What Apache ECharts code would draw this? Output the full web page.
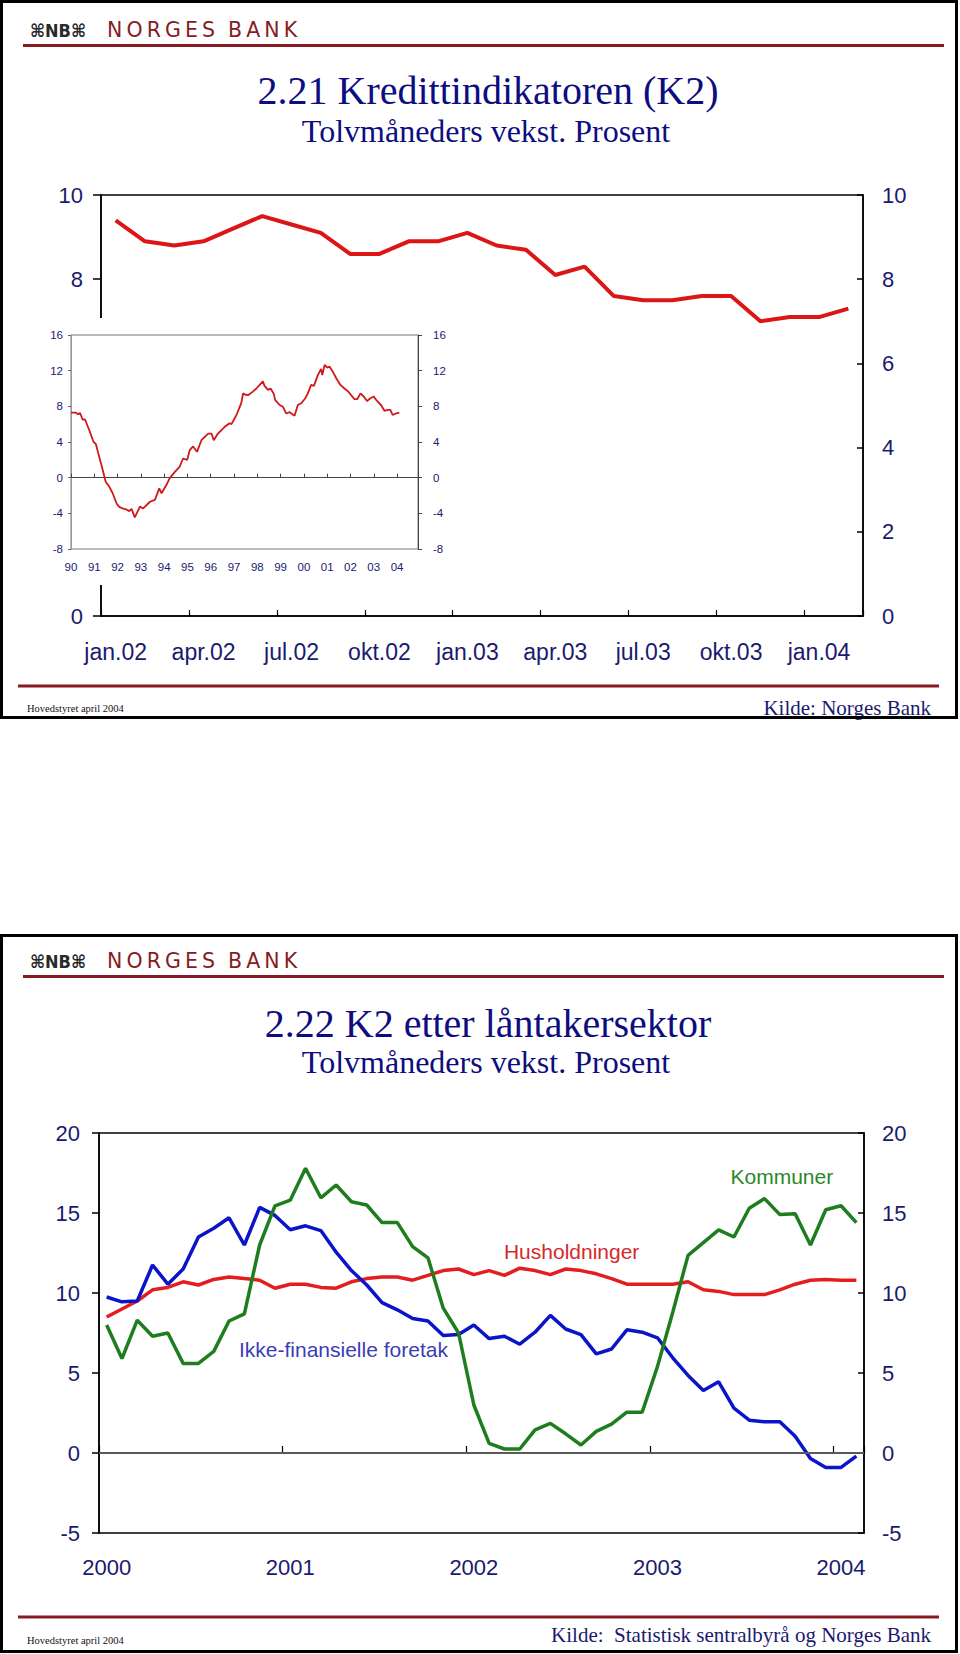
<!DOCTYPE html>
<html>
<head>
<meta charset="utf-8">
<script src="https://cdn.jsdelivr.net/npm/echarts@6/dist/echarts.min.js"></script>
<style>
html,body{margin:0;padding:0;background:#fff;}
#c{width:960px;height:1654px;}
</style>
</head>
<body>
<div id="c"></div>
<script>
// ---- Figure 2.21: K2, monthly jan.02 - feb.04 ----
const k2Months = ['jan.02','feb.02','mar.02','apr.02','mai.02','jun.02','jul.02','aug.02','sep.02','okt.02','nov.02','des.02',
  'jan.03','feb.03','mar.03','apr.03','mai.03','jun.03','jul.03','aug.03','sep.03','okt.03','nov.03','des.03','jan.04','feb.04'];
const k2Values = [9.4, 8.9, 8.8, 8.9, 9.2, 9.5, 9.3, 9.1, 8.6, 8.6, 8.9, 8.9, 9.1, 8.8, 8.7, 8.1, 8.3, 7.6, 7.5, 7.5, 7.6, 7.6, 7.0, 7.1, 7.1, 7.3];
const k2YMin = 0, k2YMax = 10, k2YStep = 2;

// ---- Inset: K2 1990 - 2004 (year, value) ----
const longYearMin = 1990, longYearMax = 2004.9;
const longYMin = -8, longYMax = 16, longYStep = 4;
const longSeries = [[1990.00,7.3],[1990.20,7.3],[1990.30,7.1],[1990.39,7.25],[1990.50,6.5],[1990.60,6.55],[1990.81,5.15],[1990.96,4.05],
  [1991.07,3.75],[1991.17,2.75],[1991.31,1.4],[1991.49,-0.45],[1991.64,-1.0],[1991.79,-1.75],[1991.96,-2.9],[1992.06,-3.25],
  [1992.21,-3.45],[1992.36,-3.55],[1992.50,-3.75],[1992.60,-3.5],[1992.74,-4.45],[1992.96,-3.25],[1993.10,-3.45],[1993.39,-2.7],
  [1993.60,-2.5],[1993.79,-1.2],[1993.89,-1.75],[1994.10,-0.8],[1994.24,-0.05],[1994.46,0.65],[1994.67,1.25],[1994.81,2.15],
  [1994.99,2.0],[1995.10,3.1],[1995.24,3.5],[1995.41,2.9],[1995.60,4.2],[1995.89,4.95],[1996.03,4.95],[1996.13,4.2],
  [1996.31,4.95],[1996.60,5.7],[1996.81,6.1],[1996.89,6.0],[1997.10,7.0],[1997.31,8.35],[1997.39,9.45],[1997.49,9.3],
  [1997.60,9.25],[1997.81,9.65],[1997.96,10.0],[1998.10,10.4],[1998.24,10.8],[1998.31,10.3],[1998.46,9.85],[1998.57,10.0],
  [1998.70,9.45],[1998.77,8.7],[1998.96,8.15],[1999.10,7.95],[1999.24,7.2],[1999.39,7.35],[1999.53,7.05],[1999.60,6.95],
  [1999.74,8.15],[1999.89,8.35],[2000.06,8.9],[2000.17,9.45],[2000.31,10.4],[2000.43,10.3],[2000.60,11.5],[2000.74,12.2],
  [2000.79,11.5],[2000.89,12.65],[2001.00,12.35],[2001.10,12.45],[2001.24,11.9],[2001.39,11.15],[2001.57,10.4],[2001.74,10.0],
  [2001.91,9.65],[2002.03,9.25],[2002.17,8.8],[2002.29,8.8],[2002.43,9.45],[2002.57,9.1],[2002.71,8.6],[2002.86,8.9],
  [2003.00,9.1],[2003.14,8.6],[2003.31,8.15],[2003.46,7.5],[2003.60,7.6],[2003.71,7.6],[2003.81,7.05],[2003.96,7.2],[2004.10,7.3]];

// ---- Figure 2.22: K2 by borrower sector, monthly jan 2000 - feb 2004 ----
const sectorMonths = ['2000-01','2000-02','2000-03','2000-04','2000-05','2000-06','2000-07','2000-08','2000-09','2000-10','2000-11','2000-12',
  '2001-01','2001-02','2001-03','2001-04','2001-05','2001-06','2001-07','2001-08','2001-09','2001-10','2001-11','2001-12',
  '2002-01','2002-02','2002-03','2002-04','2002-05','2002-06','2002-07','2002-08','2002-09','2002-10','2002-11','2002-12',
  '2003-01','2003-02','2003-03','2003-04','2003-05','2003-06','2003-07','2003-08','2003-09','2003-10','2003-11','2003-12',
  '2004-01','2004-02'];
const husholdninger = [8.5, 9.0, 9.5, 10.2, 10.35, 10.7, 10.5, 10.85, 11.0, 10.9, 10.8, 10.3,
  10.55, 10.55, 10.35, 10.3, 10.7, 10.9, 11.0, 11.0, 10.8, 11.1, 11.4, 11.5,
  11.15, 11.4, 11.1, 11.55, 11.4, 11.15, 11.5, 11.4, 11.2, 10.9, 10.55, 10.55,
  10.55, 10.55, 10.7, 10.2, 10.1, 9.9, 9.9, 9.9, 10.2, 10.55, 10.8, 10.85,
  10.8, 10.8];
const foretak = [9.75, 9.45, 9.5, 11.75, 10.55, 11.5, 13.5, 14.05, 14.7, 13.0, 15.35, 14.85,
  13.95, 14.2, 13.9, 12.55, 11.4, 10.5, 9.4, 8.95, 8.4, 8.25, 7.35, 7.4,
  8.0, 7.15, 7.3, 6.8, 7.55, 8.6, 7.75, 7.4, 6.2, 6.5, 7.7, 7.55,
  7.2, 5.95, 4.85, 3.9, 4.45, 2.8, 2.05, 1.95, 1.95, 1.05, -0.35, -0.9,
  -0.9, -0.2];
const kommuner = [8.0, 5.9, 8.3, 7.3, 7.5, 5.6, 5.6, 6.35, 8.25, 8.7, 13.0, 15.45,
  15.8, 17.8, 15.95, 16.75, 15.7, 15.5, 14.4, 14.4, 12.9, 12.2, 9.05, 7.5,
  3.0, 0.6, 0.25, 0.25, 1.45, 1.85, 1.2, 0.5, 1.35, 1.8, 2.55, 2.55,
  5.4, 8.8, 12.35, 13.15, 13.95, 13.5, 15.3, 15.9, 14.9, 14.95, 13.0, 15.2,
  15.45, 14.4];
const sectorYMin = -5, sectorYMax = 20, sectorYStep = 5;

// ---- styling ----
const NAVY = '#1a1a6e';
const TITLE = '#0d0d80';
const SANS = "'Liberation Sans', Arial, sans-serif";
const SERIF = "'Liberation Serif', 'Times New Roman', serif";
const MAROON = '#861c22';
const TS = '\u2009';

function logo(y) {
  return [
    { type: 'text', x: 30, y: y, z: 30, style: { text: '\u2318NB\u2318', font: "bold 18px 'DejaVu Sans Condensed','DejaVu Sans'", fill: '#2a2a2a', textVerticalAlign: 'middle' } },
    { type: 'text', x: 107, y: y, z: 30, style: { text: ['N','O','R','G','E','S'].join(TS) + '\u00a0\u00a0' + ['B','A','N','K'].join(TS), font: "20.5px 'DejaVu Sans'", fill: MAROON, textVerticalAlign: 'middle' } },
    { type: 'rect', z: 30, shape: { x: 23, y: y + 14, width: 921, height: 3 }, style: { fill: MAROON } }
  ];
}
function titles(y1, y2, t1, t2) {
  return [
    { type: 'text', x: 488, y: y1, z: 30, style: { text: t1, font: '40px ' + SERIF, fill: TITLE, textAlign: 'center', textVerticalAlign: 'middle' } },
    { type: 'text', x: 486, y: y2, z: 30, style: { text: t2, font: '32px ' + SERIF, fill: TITLE, textAlign: 'center', textVerticalAlign: 'middle' } }
  ];
}
function footer(lineY, leftY, rightY, source) {
  return [
    { type: 'rect', z: 30, shape: { x: 18, y: lineY - 1.5, width: 921, height: 3 }, style: { fill: MAROON } },
    { type: 'text', x: 27, y: leftY, z: 30, style: { text: 'Hovedstyret april 2004', font: '10.5px ' + SERIF, fill: '#111', textVerticalAlign: 'middle' } },
    { type: 'text', x: 931, y: rightY, z: 30, style: { text: source, font: '21px ' + SERIF, fill: NAVY, textAlign: 'right', textVerticalAlign: 'middle' } }
  ];
}

const chart = echarts.init(document.getElementById('c'), null, { renderer: 'svg', width: 960, height: 1654 });

const valueAxisBase = (gridIndex, min, max, step, pos, fontSize, margin, inside, tickLen) => ({
  type: 'value', gridIndex, min, max, interval: step, position: pos,
  axisLine: { show: true, lineStyle: { color: '#000', width: 1.5 } },
  axisTick: { show: true, inside, length: tickLen, lineStyle: { color: '#000', width: 1.5 } },
  axisLabel: { color: NAVY, fontSize, fontFamily: SANS, margin },
  splitLine: { show: false }
});

const option = {
  animation: false,
  backgroundColor: '#fff',
  grid: [
    { left: 101, top: 195, width: 762, height: 421, show: true, borderColor: '#000', borderWidth: 1.5, backgroundColor: 'transparent', containLabel: false },
    { left: 71, top: 335, width: 347, height: 214, show: true, borderColor: '#777', borderWidth: 1, backgroundColor: 'transparent', z: 10 },
    { left: 99, top: 1133, width: 765, height: 400, show: true, borderColor: '#000', borderWidth: 1.5, backgroundColor: 'transparent' }
  ],
  xAxis: [
    { type: 'category', gridIndex: 0, data: k2Months, boundaryGap: true,
      axisLine: { lineStyle: { color: '#000', width: 1.5 } },
      axisTick: { show: true, inside: true, length: 6, interval: 2, lineStyle: { color: '#000', width: 1.2 } },
      axisLabel: { interval: 2, color: NAVY, fontSize: 23, fontFamily: SANS, margin: 24 } },
    { type: 'value', gridIndex: 1, min: longYearMin, max: longYearMax, interval: 1, z: 10,
      axisLine: { lineStyle: { color: '#444', width: 1 } },
      axisTick: { show: true, inside: true, length: 4, lineStyle: { color: '#444' } },
      axisLabel: { color: NAVY, fontSize: 11.5, fontFamily: SANS, margin: 12, showMaxLabel: false,
        formatter: v => Math.abs(v - Math.round(v)) < 1e-6 ? String(Math.round(v)).slice(2) : '' },
      splitLine: { show: false } },
    { type: 'category', gridIndex: 2, data: sectorMonths, boundaryGap: true,
      axisLine: { lineStyle: { color: '#000', width: 1.5 } },
      axisTick: { show: true, inside: true, length: 7, interval: 11, lineStyle: { color: '#000', width: 1.2 } },
      axisLabel: { interval: 11, color: NAVY, fontSize: 22, fontFamily: SANS, margin: 23, formatter: v => v.slice(0, 4) } }
  ],
  yAxis: [
    valueAxisBase(0, k2YMin, k2YMax, k2YStep, 'left', 22, 18, false, 8),
    valueAxisBase(0, k2YMin, k2YMax, k2YStep, 'right', 22, 19, true, 6),
    Object.assign(valueAxisBase(1, longYMin, longYMax, longYStep, 'left', 11.5, 8, false, 3), { z: 10,
      axisLine: { show: true, lineStyle: { color: '#999', width: 1 } }, axisTick: { show: true, inside: false, length: 3, lineStyle: { color: '#666' } } }),
    Object.assign(valueAxisBase(1, longYMin, longYMax, longYStep, 'right', 11.5, 15, false, 4), { z: 10,
      axisLine: { show: true, lineStyle: { color: '#444', width: 1 } }, axisTick: { show: true, inside: false, length: 4, lineStyle: { color: '#444' } } }),
    valueAxisBase(2, sectorYMin, sectorYMax, sectorYStep, 'left', 22, 19, false, 7),
    valueAxisBase(2, sectorYMin, sectorYMax, sectorYStep, 'right', 22, 18, true, 6)
  ],
  series: [
    { name: 'K2', type: 'line', xAxisIndex: 0, yAxisIndex: 0, data: k2Values, showSymbol: false, symbol: 'none',
      lineStyle: { color: '#dc1616', width: 4 } },
    { name: 'K2 1990-2004', type: 'line', xAxisIndex: 1, yAxisIndex: 2, data: longSeries, showSymbol: false, symbol: 'none', z: 12,
      lineStyle: { color: '#d01818', width: 1.8 },
      markLine: { silent: true, symbol: 'none', label: { show: false }, lineStyle: { color: '#555', width: 1, type: 'solid' }, data: [{ yAxis: 0 }] } },
    { name: 'Husholdninger', type: 'line', xAxisIndex: 2, yAxisIndex: 4, data: husholdninger, showSymbol: false, symbol: 'none',
      lineStyle: { color: '#e41e1e', width: 3.5 },
      markLine: { silent: true, symbol: 'none', label: { show: false }, lineStyle: { color: '#5a5a5a', width: 2, type: 'solid' }, data: [{ yAxis: 0 }] },
      markPoint: { symbol: 'circle', symbolSize: 1, itemStyle: { color: 'rgba(0,0,0,0)' },
        label: { show: true, position: 'inside', offset: [6, 0], color: '#d42a2a', fontSize: 21, fontFamily: SANS, formatter: 'Husholdninger' },
        data: [{ coord: ['2002-07', 12.58] }] } },
    { name: 'Ikke-finansielle foretak', type: 'line', xAxisIndex: 2, yAxisIndex: 4, data: foretak, showSymbol: false, symbol: 'none',
      lineStyle: { color: '#0a14c8', width: 3.5 },
      markPoint: { symbol: 'circle', symbolSize: 1, itemStyle: { color: 'rgba(0,0,0,0)' },
        label: { show: true, position: 'inside', offset: [-8, 0], color: '#3c3cb4', fontSize: 21, fontFamily: SANS, formatter: 'Ikke-finansielle foretak' },
        data: [{ coord: ['2001-05', 6.46] }] } },
    { name: 'Kommuner', type: 'line', xAxisIndex: 2, yAxisIndex: 4, data: kommuner, showSymbol: false, symbol: 'none',
      lineStyle: { color: '#1e7e1e', width: 3.5 },
      markPoint: { symbol: 'circle', symbolSize: 1, itemStyle: { color: 'rgba(0,0,0,0)' },
        label: { show: true, position: 'inside', offset: [2, 0], color: '#2a882a', fontSize: 21, fontFamily: SANS, formatter: 'Kommuner' },
        data: [{ coord: ['2003-09', 17.27] }] } }
  ],
  graphic: { elements: [
    // slide frames
    { type: 'rect', z: 40, shape: { x: 1.5, y: 1.5, width: 955, height: 716 }, style: { fill: 'none', stroke: '#000', lineWidth: 3 } },
    { type: 'rect', z: 40, shape: { x: 1.5, y: 935.5, width: 955, height: 716 }, style: { fill: 'none', stroke: '#000', lineWidth: 3 } },
    // inset background (covers the main chart's left axis)
    { type: 'rect', z: 5, shape: { x: 20, y: 318, width: 430, height: 267 }, style: { fill: '#fff' } },
    ...logo(30),
    ...titles(90, 131, '2.21 Kredittindikatoren (K2)', 'Tolvmåneders vekst. Prosent'),
    ...footer(686, 708, 708, 'Kilde: Norges Bank'),
    ...logo(961),
    ...titles(1023, 1062, '2.22 K2 etter låntakersektor', 'Tolvmåneders vekst. Prosent'),
    ...footer(1617, 1640, 1635, 'Kilde:\u00a0\u00a0Statistisk sentralbyrå og Norges Bank')
  ] }
};
chart.setOption(option);
</script>
</body>
</html>
